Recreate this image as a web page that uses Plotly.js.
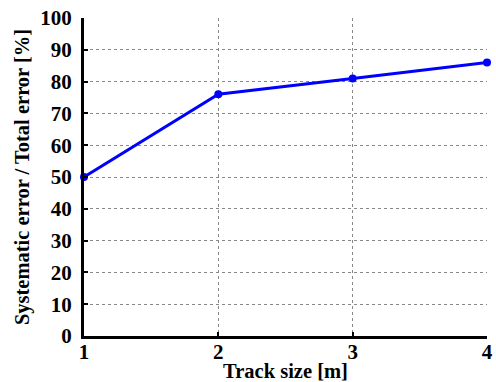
<!DOCTYPE html>
<html><head><meta charset="utf-8">
<script src="https://cdn.plot.ly/plotly-3.0.1.min.js"></script>
<style>html,body{margin:0;padding:0;background:#fff}</style>
</head><body><div id="c" style="width:496px;height:382px"></div>
<script>
const trackSize = [1, 2, 3, 4];
const ratio = [50, 76, 81, 86];
const xTicks = [1, 2, 3, 4];
const yTicks = [0, 10, 20, 30, 40, 50, 60, 70, 80, 90, 100];
const fam = 'Liberation Serif, Times New Roman, serif';
Plotly.newPlot('c', [{
  x: trackSize, y: ratio, type: 'scatter', mode: 'lines+markers',
  line: {color: '#0000ff', width: 3}, marker: {color: '#0000ff', size: 8},
  cliponaxis: false
}], {
  width: 496, height: 382,
  margin: {l: 84, r: 9, t: 18, b: 46},
  paper_bgcolor: '#fff', plot_bgcolor: '#fff',
  showlegend: false,
  font: {family: fam, color: '#000', weight: 700},
  xaxis: {
    range: [1, 4], tickvals: xTicks, ticktext: xTicks.map(String),
    showline: true, linecolor: '#000', linewidth: 3,
    ticks: 'inside', ticklen: 4, tickwidth: 2, tickcolor: '#000',
    ticklabelstandoff: -5,
    showgrid: true, gridcolor: '#888', griddash: 'dot', gridwidth: 1,
    zeroline: false,
    tickfont: {family: fam, size: 21, color: '#000', weight: 700},
    title: {text: 'Track size [m]', font: {family: fam, size: 20.5, color: '#000', weight: 700}, standoff: 2}
  },
  yaxis: {
    range: [0, 100], tickvals: yTicks,
    showline: true, linecolor: '#000', linewidth: 3,
    ticks: 'inside', ticklen: 4, tickwidth: 2, tickcolor: '#000',
    ticklabelstandoff: 5,
    showgrid: true, gridcolor: '#888', griddash: 'dot', gridwidth: 1,
    zeroline: false,
    tickfont: {family: fam, size: 21, color: '#000', weight: 700},
    title: {text: 'Systematic error / Total error [%]', font: {family: fam, size: 20.5, color: '#000', weight: 700}, standoff: 6}
  }
}, {displayModeBar: false, staticPlot: true});
</script></body></html>
